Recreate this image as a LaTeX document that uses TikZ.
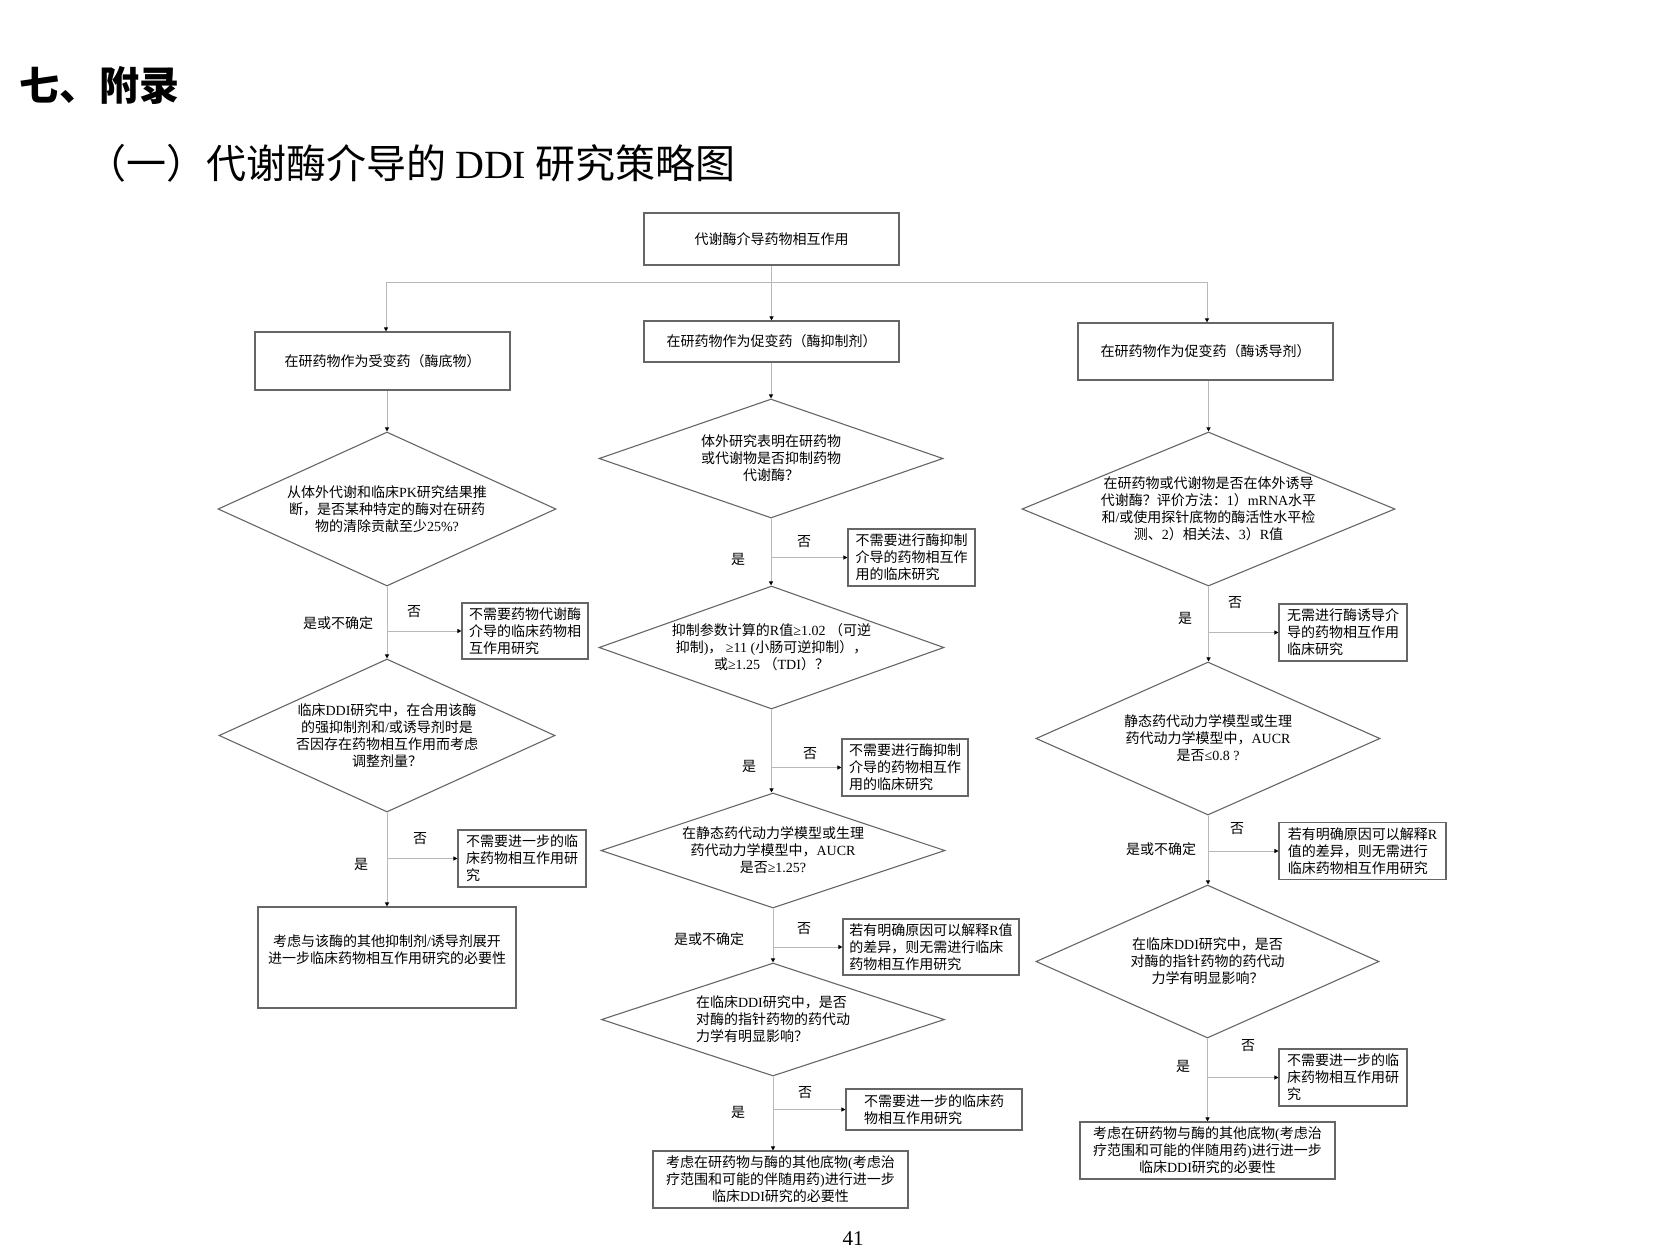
\documentclass[tikz,border=0pt]{standalone}
\usepackage{fontspec}
\setmainfont{Liberation Serif}
\newfontfamily\cjk{Noto Sans CJK SC}
\usetikzlibrary{shapes.geometric,arrows.meta}
\newcommand\TNR[1]{{\rmfamily #1}}
\newcommand\myfont{\fontsize{14}{17}\selectfont\cjk}
\begin{document}
\begin{tikzpicture}[x=1pt,y=-1pt,
  sz/.style 2 args={minimum width=#1pt, minimum height=#2pt},
  rbox/.style={draw=black!60, line width=1.1pt, fill=white, inner sep=2pt, font=\myfont, align=center},
  nbox/.style={rbox, align=left},
  dia/.style={diamond, draw=black!60, line width=1.1pt, inner sep=0pt, font=\myfont, align=center},
  conn/.style={draw=black!28, line width=1pt},
  arr/.style={conn, -{Triangle[length=4pt,width=4pt,color=black]}},
  lbl/.style={font=\myfont, inner sep=0pt}
]
\useasboundingbox (0,0) rectangle (1664,1255);
\fill[white] (0,0) rectangle (1664,1255);

% titles
\node[anchor=west, inner sep=0pt, font=\fontsize{40}{48}\selectfont\cjk\bfseries] (title) at (19,85) {七、附录};
\node[anchor=west, inner sep=0pt, font=\fontsize{40}{48}\selectfont\cjk] (sub) at (86,163) {（一）代谢酶介导的 \TNR{DDI} 研究策略图};

% top
\node[rbox, sz={255}{52}] (T) at (771.5,239) {代谢酶介导药物相互作用};
\node[rbox, sz={255}{58}] (B1) at (382.5,361) {在研药物作为受变药（酶底物）};
\node[rbox, sz={255}{41}] (B2) at (771.5,341.5) {在研药物作为促变药（酶抑制剂）};
\node[rbox, sz={255}{57}] (B3) at (1205.5,351.5) {在研药物作为促变药（酶诱导剂）};

% left column
\node[dia, sz={338}{154}, aspect=2.19] (L1) at (387,509) {从体外代谢和临床\TNR{PK}研究结果推\\断，是否某种特定的酶对在研药\\物的清除贡献至少\TNR{25\%?}};
\node[nbox, sz={126}{56}] (NL1) at (525,631) {不需要药物代谢酶\\介导的临床药物相\\互作用研究};
\node[dia, sz={336}{153}, aspect=2.2] (L2) at (387,735.5) {临床\TNR{DDI}研究中，在合用该酶\\的强抑制剂和\TNR{/}或诱导剂时是\\否因存在药物相互作用而考虑\\调整剂量？};
\node[nbox, sz={128}{57}] (NL2) at (522,858.5) {不需要进一步的临\\床药物相互作用研\\究};
\node[rbox, sz={258}{101}] (FL) at (387,957.5) {};
\node[font=\myfont, align=center, inner sep=0pt] (FLt) at (387,950) {考虑与该酶的其他抑制剂\TNR{/}诱导剂展开\\进一步临床药物相互作用研究的必要性};

% middle column
\node[dia, sz={344}{119}, aspect=2.89] (M1) at (771,458.5) {体外研究表明在研药物\\或代谢物是否抑制药物\\代谢酶？};
\node[nbox, sz={127}{57}] (NM1) at (911.5,557.5) {不需要进行酶抑制\\介导的药物相互作\\用的临床研究};
\node[dia, sz={345}{123}, aspect=2.8] (M2) at (771.5,647.5) {抑制参数计算的\TNR{R}值\TNR{≥1.02 }（可逆\\抑制\TNR{)}，\TNR{ ≥11 (}小肠可逆抑制），\\或\TNR{≥1.25 }（\TNR{TDI}）？};
\node[nbox, sz={126}{57}] (NM2) at (905,767.5) {不需要进行酶抑制\\介导的药物相互作\\用的临床研究};
\node[dia, sz={344}{115}, aspect=2.99] (M3) at (773,850.5) {在静态药代动力学模型或生理\\药代动力学模型中，\TNR{AUCR}\\是否\TNR{≥1.25?}};
\node[nbox, sz={176}{56}] (NM3) at (931,947) {若有明确原因可以解释\TNR{R}值\\的差异，则无需进行临床\\药物相互作用研究};
\node[dia, sz={343}{113}, aspect=3.04, align=left] (M4) at (773,1019.5) {在临床\TNR{DDI}研究中，是否\\对酶的指针药物的药代动\\力学有明显影响？};
\node[nbox, sz={176}{41}] (NM4) at (934,1109.5) {不需要进一步的临床药\\物相互作用研究};
\node[rbox, sz={255}{57}] (FM) at (780.5,1179.5) {考虑在研药物与酶的其他底物\TNR{(}考虑治\\疗范围和可能的伴随用药\TNR{)}进行进一步\\临床\TNR{DDI}研究的必要性};

% right column
\node[dia, sz={373}{154}, aspect=2.42] (R1) at (1208.5,509) {在研药物或代谢物是否在体外诱导\\代谢酶？评价方法：\TNR{1}）\TNR{mRNA}水平\\和\TNR{/}或使用探针底物的酶活性水平检\\测、\TNR{2}）相关法、\TNR{3}）\TNR{R}值};
\node[nbox, sz={128}{57}] (NR1) at (1343,632.5) {无需进行酶诱导介\\导的药物相互作用\\临床研究};
\node[dia, sz={344}{153}, aspect=2.25] (R2) at (1208,738.5) {静态药代动力学模型或生理\\药代动力学模型中，\TNR{AUCR}\\是否\TNR{≤0.8 ?}};
\node[nbox, sz={167}{57}] (NR2) at (1362.5,851) {若有明确原因可以解释\TNR{R}\\值的差异，则无需进行\\临床药物相互作用研究};
\node[dia, sz={343}{153}, aspect=2.24] (R3) at (1207.5,961.5) {在临床\TNR{DDI}研究中，是否\\对酶的指针药物的药代动\\力学有明显影响？};
\node[nbox, sz={128}{57}] (NR3) at (1343,1077.5) {不需要进一步的临\\床药物相互作用研\\究};
\node[rbox, sz={255}{57}] (FR) at (1207.5,1150.5) {考虑在研药物与酶的其他底物\TNR{(}考虑治\\疗范围和可能的伴随用药\TNR{)}进行进一步\\临床\TNR{DDI}研究的必要性};

% connectors
\coordinate (busL) at (386,282);
\coordinate (busR) at (1207,282);
\draw[conn] (busL) -- (busR);
\draw[arr] (T.south) -- (B2.north);
\draw[arr] (busL) -- (busL |- B1.north);
\draw[arr] (busR) -- (busR |- B3.north);
\draw[arr] (L1.north |- B1.south) -- (L1.north);
\draw[arr] (M1.north |- B2.south) -- (M1.north);
\draw[arr] (R1.north |- B3.south) -- (R1.north);

\draw[arr] (L1.south) -- (L1.south |- L2.north);
\draw[arr] (L1.south |- NL1.west) -- (NL1.west);
\draw[arr] (L2.south) -- (L2.south |- FL.north);
\draw[arr] (L2.south |- NL2.west) -- (NL2.west);

\draw[arr] (M1.south) -- (M1.south |- M2.north);
\draw[arr] (M1.south |- NM1.west) -- (NM1.west);
\draw[arr] (M2.south) -- (M2.south |- M3.north);
\draw[arr] (M2.south |- NM2.west) -- (NM2.west);
\draw[arr] (M3.south) -- (M3.south |- M4.north);
\draw[arr] (M3.south |- NM3.west) -- (NM3.west);
\draw[arr] (M4.south) -- (M4.south |- FM.north);
\draw[arr] (M4.south |- NM4.west) -- (NM4.west);

\draw[arr] (R1.south) -- (R1.south |- R2.north);
\draw[arr] (R1.south |- NR1.west) -- (NR1.west);
\draw[arr] (R2.south) -- (R2.south |- R3.north);
\draw[arr] (R2.south |- NR2.west) -- (NR2.west);
\draw[arr] (R3.south) -- (R3.south |- FR.north);
\draw[arr] (R3.south |- NR3.west) -- (NR3.west);

% branch labels
\node[lbl] (n1) at (414,612) {否};
\node[lbl] (y1) at (338,623) {是或不确定};
\node[lbl] (n2) at (420,839) {否};
\node[lbl] (y2) at (361,864) {是};
\node[lbl] (n3) at (804,542) {否};
\node[lbl] (y3) at (738,559) {是};
\node[lbl] (n4) at (810,754) {否};
\node[lbl] (y4) at (749,766) {是};
\node[lbl] (n5) at (804,929) {否};
\node[lbl] (y5) at (709,939) {是或不确定};
\node[lbl] (n6) at (805,1093) {否};
\node[lbl] (y6) at (738,1112) {是};
\node[lbl] (n7) at (1235,603) {否};
\node[lbl] (y7) at (1185,618) {是};
\node[lbl] (n8) at (1237,829) {否};
\node[lbl] (y8) at (1161,849) {是或不确定};
\node[lbl] (n9) at (1248,1046) {否};
\node[lbl] (y9) at (1183,1066) {是};

% page number
\node[inner sep=0pt, font=\fontsize{21}{25}\selectfont\rmfamily] (pg) at (853,1239) {41};
\end{tikzpicture}
\end{document}
